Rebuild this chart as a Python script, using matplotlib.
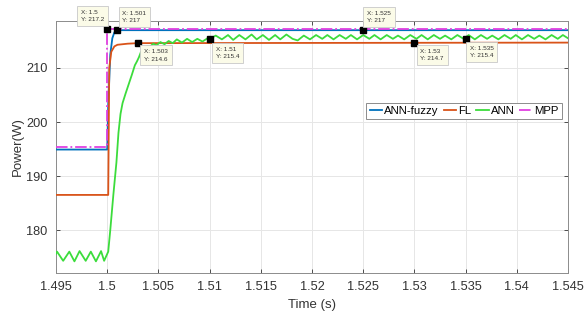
import matplotlib.pyplot as plt

plt.rcParams['font.family'] = ['Liberation Sans', 'DejaVu Sans']

# ANN-fuzzy
t_fuzzy = [1.495, 1.5, 1.5001, 1.5003, 1.5005, 1.5007, 1.501, 1.545]
p_fuzzy = [194.9, 194.9, 203.0, 212.5, 215.5, 216.6, 217.0, 217.0]

# FL
t_fl = [1.495, 1.5001, 1.5002, 1.5004, 1.5007, 1.501, 1.502, 1.503, 1.545]
p_fl = [186.5, 186.5, 210.0, 213.0, 214.0, 214.3, 214.5, 214.6, 214.7]

# MPP
t_mpp = [1.495, 1.5, 1.5, 1.545]
p_mpp = [195.4, 195.4, 217.2, 217.2]

# ANN (peaks / troughs)
t_ann = [1.4950, 1.4951, 1.4957, 1.4963, 1.4968, 1.4973, 1.4979, 1.4984, 1.4989,
         1.4994, 1.4997, 1.5001, 1.5003, 1.5006, 1.5009, 1.5011, 1.5013, 1.5015,
         1.5018, 1.5021, 1.5024, 1.5027, 1.5029, 1.5031, 1.5033, 1.5036, 1.5039,
         1.5042, 1.5045, 1.5048, 1.5052, 1.5056, 1.5060, 1.5064, 1.5068, 1.5073,
         1.5078, 1.5083, 1.5088, 1.5093, 1.5098, 1.5100,
         1.5106, 1.5112, 1.5118, 1.5123, 1.5129, 1.5135, 1.5141, 1.5146, 1.5152,
         1.5158, 1.5164, 1.5169, 1.5175, 1.5181, 1.5186, 1.5192, 1.5198, 1.5204,
         1.5210, 1.5215, 1.5221, 1.5227, 1.5233, 1.5238, 1.5244, 1.5250, 1.5256,
         1.5261, 1.5267, 1.5273, 1.5279, 1.5284, 1.5290, 1.5296, 1.5302, 1.5307,
         1.5313, 1.5319, 1.5325, 1.5330, 1.5336, 1.5342, 1.5348, 1.5353, 1.5359,
         1.5365, 1.5371, 1.5376, 1.5382, 1.5388, 1.5394, 1.5399, 1.5405, 1.5411,
         1.5417, 1.5422, 1.5428, 1.5434, 1.5440, 1.5445, 1.5450]
p_ann = [175.6, 176.0, 174.3, 176.0, 174.2, 176.1, 174.3, 176.0, 174.2,
         176.1, 174.3, 176.0, 180.0, 186.5, 192.5, 198.0, 201.5, 203.5,
         205.3, 207.0, 208.7, 210.5, 211.2, 212.0, 213.0, 213.2, 214.0,
         214.0, 214.5, 214.2, 214.8, 214.4, 215.0, 214.6, 215.3, 214.7,
         215.4, 214.8, 215.4, 214.9, 215.5, 215.4,
         216.0, 215.3, 216.1, 215.2, 216.1, 215.3, 216.2, 215.3, 216.1,
         215.2, 216.1, 215.3, 216.2, 215.4, 215.1, 216.0, 215.3, 216.1,
         215.4, 216.1, 215.3, 216.1, 215.4, 216.1, 215.3, 216.1, 215.4,
         216.1, 215.3, 216.1, 215.4, 216.0, 215.3, 216.1, 215.4, 216.1,
         215.3, 216.1, 215.4, 216.0, 215.3, 216.1, 215.4, 216.1, 215.3,
         216.1, 215.4, 216.0, 215.3, 216.1, 215.4, 216.1, 215.3, 216.1,
         215.4, 216.0, 215.3, 216.1, 215.4, 216.1, 215.5]

# data tips: (x, y, offset in pixels, alignment)
tips = [(1.5, 217.2, (-3, 7), 'right', 'bottom'),
        (1.501, 217, (5, 7), 'left', 'bottom'),
        (1.503, 214.6, (6, -6), 'left', 'top'),
        (1.51, 215.4, (6, -8), 'left', 'top'),
        (1.525, 217, (4, 7), 'left', 'bottom'),
        (1.53, 214.7, (6, -6), 'left', 'top'),
        (1.535, 215.4, (4, -7), 'left', 'top')]

x_ticks = [1.495, 1.5, 1.505, 1.51, 1.515, 1.52, 1.525, 1.53, 1.535, 1.54, 1.545]
x_labels = ['1.495', '1.5', '1.505', '1.51', '1.515', '1.52', '1.525', '1.53', '1.535', '1.54', '1.545']
y_ticks = [180, 190, 200, 210]

fig = plt.figure(figsize=(5.84, 3.16), dpi=100)
ax = fig.add_axes([56/584, 43.3/316, 512/584, 251.7/316])

ax.plot(t_fuzzy, p_fuzzy, color='#0072BD', lw=1.3, label='ANN-fuzzy', zorder=3)
ax.plot(t_fl, p_fl, color='#D95319', lw=1.3, label='FL', zorder=3)
ax.plot(t_ann, p_ann, color='#3CDC3C', lw=1.3, label='ANN', zorder=4)
ax.plot(t_mpp, p_mpp, color='#E040E0', lw=1.3, ls='-.', label='MPP', zorder=5)

for x, y, off, ha, va in tips:
    ax.plot(x, y, 's', color='black', ms=4, zorder=6)
    ax.annotate('X: %g\nY: %g' % (x, y), (x, y), xytext=off, textcoords='offset pixels',
                ha=ha, va=va, multialignment='left', fontsize=4.6, color='#333333',
                linespacing=1.6, zorder=7,
                bbox=dict(boxstyle='square,pad=0.6', fc='#FBFBE8', ec='#C8C8C8', lw=0.6))

ax.set_xlim(1.495, 1.545)
ax.set_ylim(172.1, 218.7)
ax.set_xticks(x_ticks)
ax.set_xticklabels(x_labels)
ax.set_yticks(y_ticks)
ax.tick_params(direction='in', top=True, right=True, labelsize=9.2, colors='#333333',
               length=3, width=0.6, pad=6)
ax.grid(True, color='#E6E6E6', lw=0.7)
ax.set_axisbelow(True)
for sp in ax.spines.values():
    sp.set_color('#8C8C8C')
    sp.set_linewidth(0.7)

ax.set_xlabel('Time (s)', fontsize=9.5, color='#333333', labelpad=4)
ax.set_ylabel('Power(W)', fontsize=9.5, color='#333333', labelpad=2)

leg = ax.legend(loc='upper right', bbox_to_anchor=(0.988, 0.676), ncol=4, fontsize=8.2,
                handlelength=1.1, handletextpad=0.2, columnspacing=0.4, borderpad=0.3,
                fancybox=False, framealpha=1, edgecolor='#8C8C8C', borderaxespad=0)
leg.get_frame().set_linewidth(0.7)

plt.savefig('out.png', dpi=100)
plt.close()
